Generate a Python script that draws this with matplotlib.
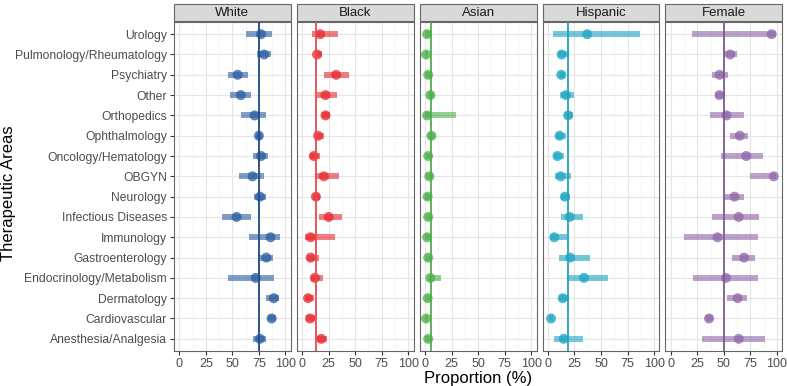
import numpy as np
import matplotlib
matplotlib.use("Agg")
import matplotlib.pyplot as plt
from matplotlib.patches import Rectangle

plt.rcParams['font.family'] = ['Liberation Sans', 'DejaVu Sans']

# categories, bottom to top
areas = ["Anesthesia/Analgesia", "Cardiovascular", "Dermatology",
         "Endocrinology/Metabolism", "Gastroenterology", "Immunology",
         "Infectious Diseases", "Neurology", "OBGYN", "Oncology/Hematology",
         "Ophthalmology", "Orthopedics", "Other", "Psychiatry",
         "Pulmonology/Rheumatology", "Urology"]

groups = ["White", "Black", "Asian", "Hispanic", "Female"]

# estimates and interval bounds (%), same order as areas
white_est = [76, 87, 89, 72, 82, 86, 54, 76, 69, 77, 75, 71, 58, 55, 80, 77]
white_lo = [69, 84, 82, 46, 75, 66, 40, 70, 56, 69, 72, 58, 48, 46, 73, 63]
white_hi = [82, 91, 94, 89, 88, 95, 68, 82, 80, 84, 78, 82, 68, 65, 86, 87]

black_est = [18, 7.5, 5.6, 12, 8, 8, 25, 13, 20.5, 11, 15, 22, 22, 32, 14, 17]
black_lo = [14, 4, 3, 8, 5, 2.5, 16, 10, 12, 7, 12, 19, 14, 21, 12, 9]
black_hi = [23, 12, 11, 20, 16, 31, 38, 17, 35, 17, 21, 26, 33, 44, 19, 34]

asian_est = [3, 1, 2.5, 5, 3, 2, 3, 2.5, 4, 3, 6, 2, 5, 3, 1, 2]
asian_lo = [0.3, 0, 0.3, 2.5, 1, 0, 1, 0, 1, 1, 3, 0, 2.5, 1, 0, 0]
asian_hi = [5, 3, 6, 15, 6, 6, 6, 5, 7.5, 6, 9, 29, 8, 6, 3, 6]

hisp_est = [15, 3, 14, 34, 21, 6, 20.5, 16, 12, 9, 11, 19, 17, 12.6, 13, 37]
hisp_lo = [6, 1.5, 10, 18, 10, 2, 12, 12.6, 7, 6, 8, 16, 11, 10, 9.5, 5]
hisp_hi = [33, 5, 20, 57, 40, 18, 33, 20.5, 22, 15.5, 17, 24, 25, 16, 20, 87]

fem_est = [64, 36, 63, 52, 69, 44, 64, 60, 97, 71, 65, 52.5, 46, 46, 56, 95]
fem_lo = [29, 33, 53, 21, 58, 12, 39, 50, 75, 47, 56, 37, 42, 39, 49, 20]
fem_hi = [88.5, 40, 72, 82, 79, 82, 83, 69, 99.5, 87, 73, 69, 51, 54, 62, 99]

ref_values = [75, 13.4, 6, 19, 50]

colors = ["#2a5d9f", "#e8282d", "#4caf49", "#1aa5c2", "#9065a8"]
line_colors = ["#1d4a8c", "#e84a4e", "#4fae4c", "#22a3bc", "#7f5a92"]

estimates = [white_est, black_est, asian_est, hisp_est, fem_est]
lows = [white_lo, black_lo, asian_lo, hisp_lo, fem_lo]
highs = [white_hi, black_hi, asian_hi, hisp_hi, fem_hi]

fig, axes = plt.subplots(1, 5, figsize=(7.87, 3.86), dpi=100, sharey=True)
fig.subplots_adjust(left=0.221, right=0.994, bottom=0.0907, top=0.943, wspace=0.052)

y = np.arange(1, len(areas) + 1)

for i, ax in enumerate(axes):
    ax.set_xlim(-5, 105)
    ax.set_ylim(0.4, len(areas) + 0.6)
    ax.set_xticks([0, 25, 50, 75, 100])
    ax.set_xticks([12.5, 37.5, 62.5, 87.5], minor=True)
    ax.set_yticks(y)
    ax.grid(True, which='major', color='#e5e5e5', lw=0.8, zorder=0)
    ax.grid(True, which='minor', axis='x', color='#f2f2f2', lw=0.5, zorder=0)
    ax.set_axisbelow(True)
    for sp in ax.spines.values():
        sp.set_color('#666666')
        sp.set_linewidth(0.8)
    ax.tick_params(axis='both', which='major', length=3, color='#333333',
                   labelsize=9, labelcolor='#4d4d4d', pad=2)
    ax.tick_params(axis='y', labelsize=8.7)
    ax.tick_params(axis='both', which='minor', length=0)

    ax.hlines(y, lows[i], highs[i], color=colors[i], lw=4.3, alpha=0.6, zorder=2)
    ax.scatter(estimates[i], y, s=52, color=colors[i], alpha=0.75,
               edgecolors='none', zorder=3)
    ax.axvline(ref_values[i], color=line_colors[i], lw=1.3, zorder=4)

    # facet strip
    h = ax.bbox.height
    ax.add_patch(Rectangle((0, 1 + 1 / h), 1, 17 / h, transform=ax.transAxes,
                           facecolor='#d9d9d9', edgecolor='#666666', lw=0.8,
                           clip_on=False))
    ax.text(0.5, 1 + 9.5 / h, groups[i], transform=ax.transAxes, ha='center',
            va='center', fontsize=9.5, color='#1a1a1a')

axes[0].set_yticklabels(areas)
for ax in axes[1:]:
    ax.tick_params(axis='y', length=0)

fig.text(0.011, 0.5, "Therapeutic Areas", rotation=90, ha='center',
         va='center', fontsize=12)
fig.text(0.607, 0.02, "Proportion (%)", ha='center', va='center', fontsize=12)

fig.savefig("out.png", dpi=100)
